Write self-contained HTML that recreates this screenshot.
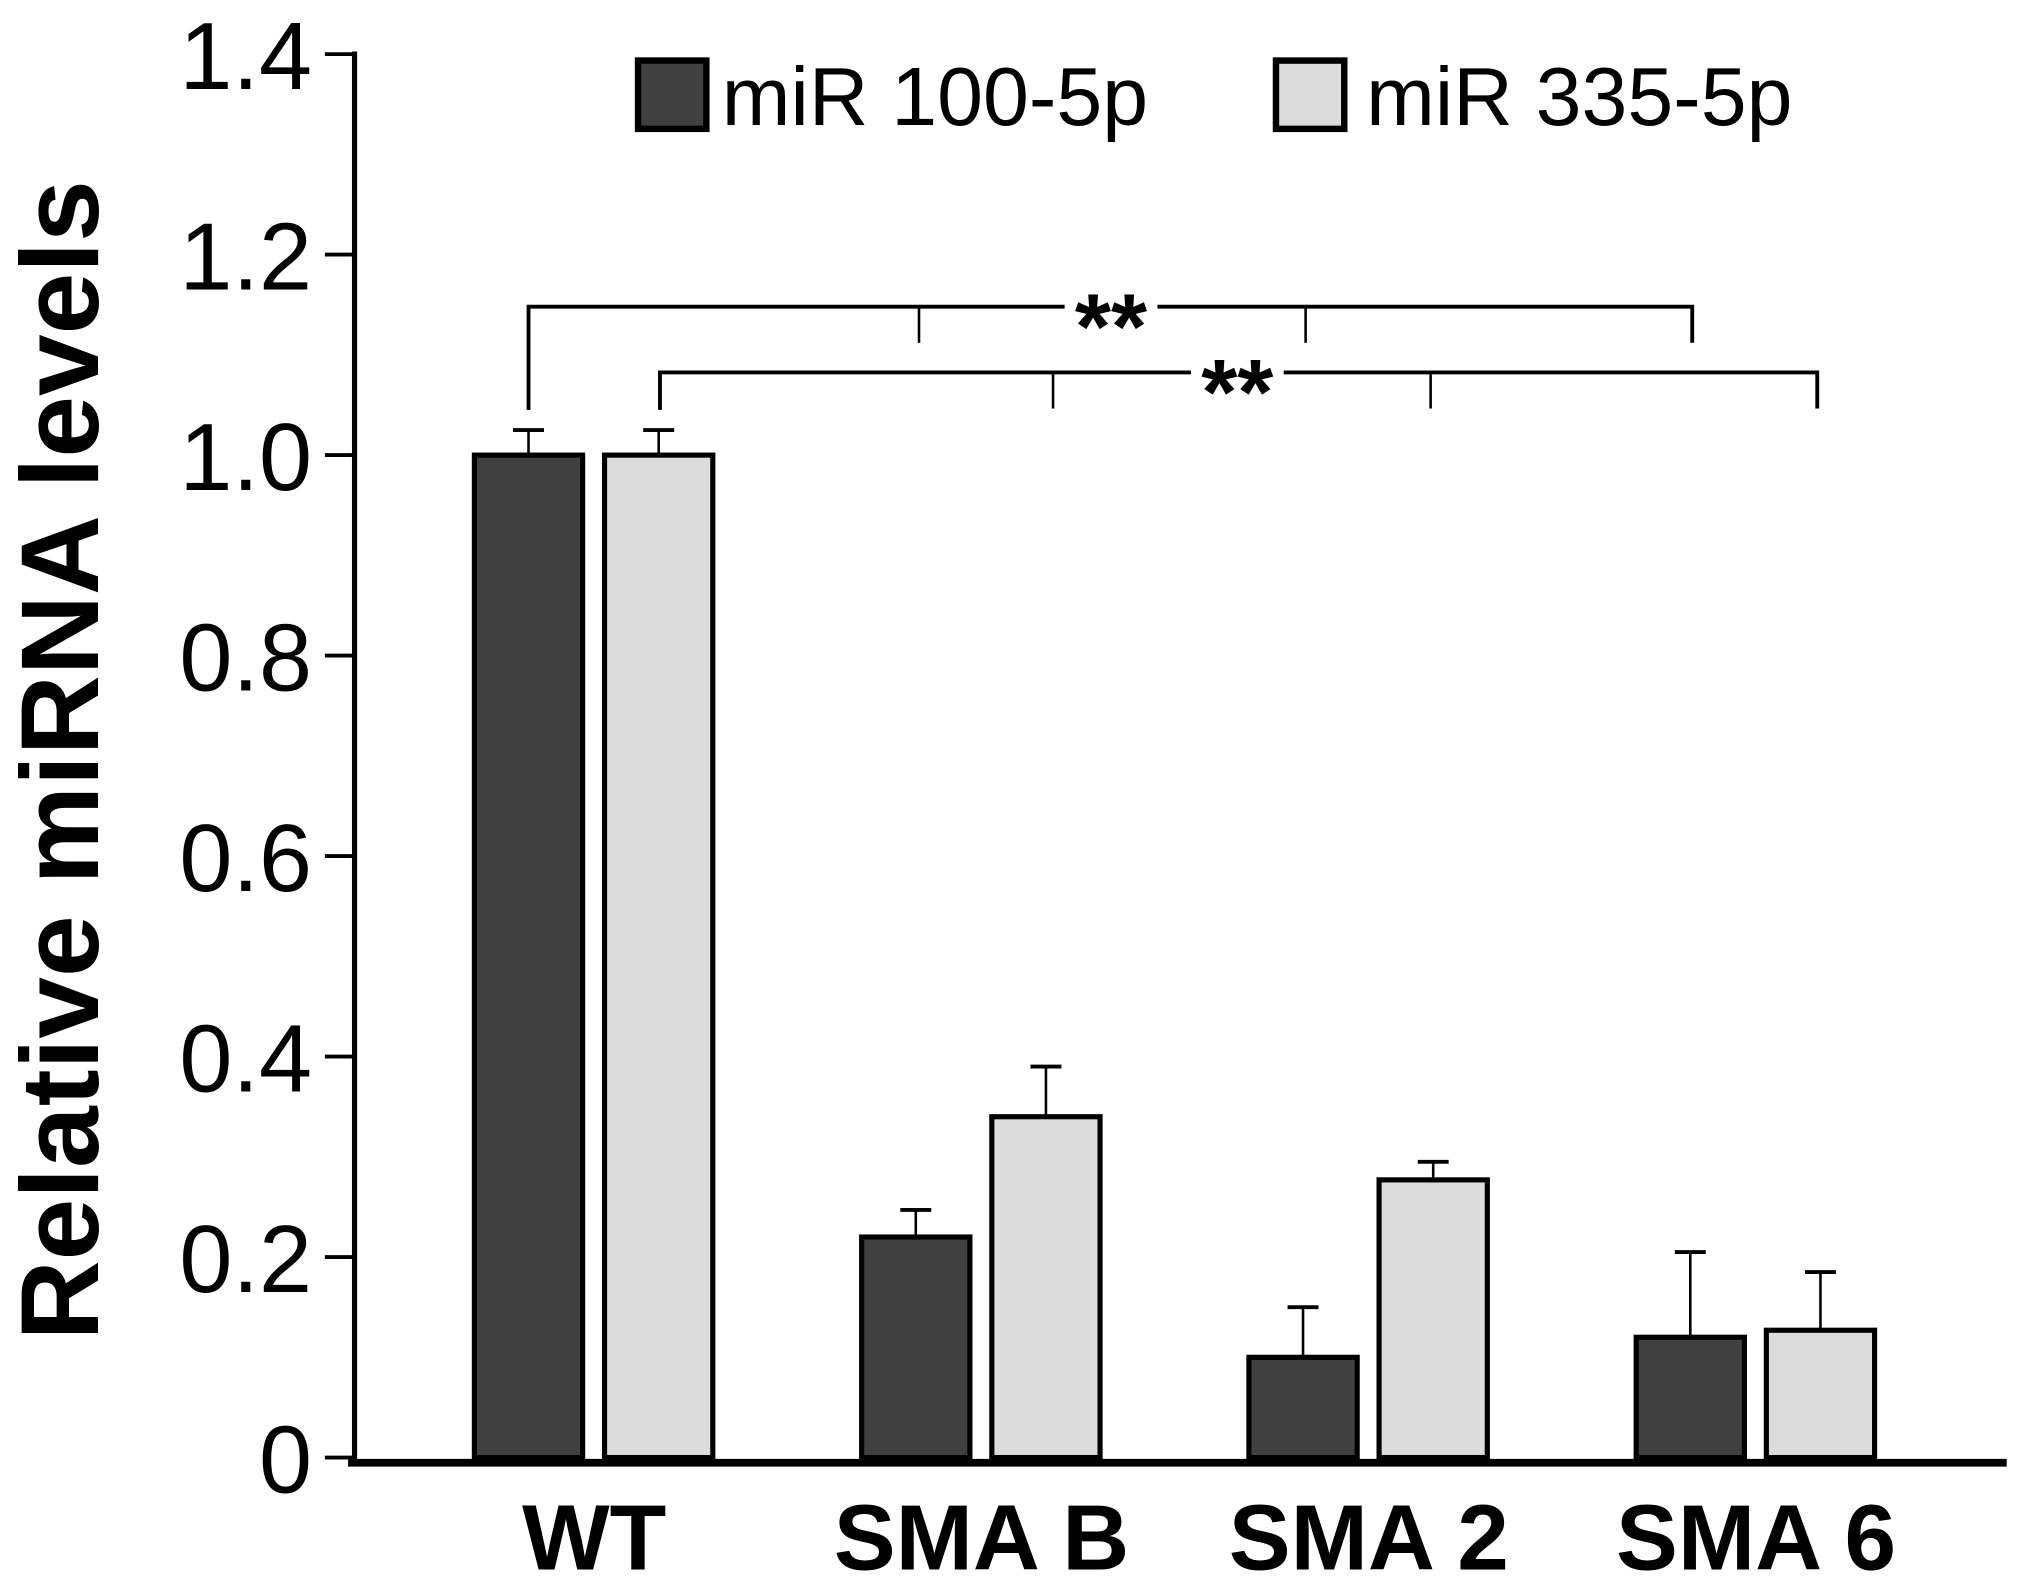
<!DOCTYPE html>
<html><head><meta charset="utf-8"><style>
html,body{margin:0;padding:0;background:#fff;}
svg{display:block;}
text{font-family:"Liberation Sans",Arial,sans-serif;}
</style></head><body>
<svg id="chart" width="2021" height="1589" viewBox="0 0 1568 1233" xmlns="http://www.w3.org/2000/svg">
<g id="axes"></g>
<g id="bars"></g>
<g id="sig"></g>
<g>
  <rect x="495" y="47" width="53" height="53" fill="#404040" stroke="#000" stroke-width="5"/>
  <text x="560" y="97" font-size="64">miR 100-5p</text>
  <rect x="990" y="47" width="53" height="53" fill="#dcdcdc" stroke="#000" stroke-width="5"/>
  <text x="1060" y="97" font-size="64">miR 335-5p</text>
</g>
<text transform="translate(76,590) rotate(-90)" text-anchor="middle" font-size="86" font-weight="bold">Relative miRNA levels</text>
</svg>
<script>
const categories = ["WT", "SMA B", "SMA 2", "SMA 6"];
const mir100 = [1.0, 0.22, 0.10, 0.12];
const mir100Err = [0.025, 0.027, 0.05, 0.085];
const mir335 = [1.0, 0.34, 0.277, 0.127];
const mir335Err = [0.025, 0.05, 0.018, 0.058];
const yTicks = [0, 0.2, 0.4, 0.6, 0.8, 1.0, 1.2, 1.4];
const yTickLabels = ["0", "0.2", "0.4", "0.6", "0.8", "1.0", "1.2", "1.4"];

const NS = "http://www.w3.org/2000/svg";
function y(v){ return 1131 - v * (1089 / 1.4); }
function groupCenter(i){ return 461 + i * 300.5; }
function mk(tag, attrs, parent){
  const e = document.createElementNS(NS, tag);
  for (const k in attrs) e.setAttribute(k, attrs[k]);
  parent.appendChild(e); return e;
}
const axes = document.getElementById('axes');
let a = mk('line', {x1:275, y1:40, x2:275, y2:1137, stroke:'#000', 'stroke-width':4}, axes);


a = mk('line', {x1:270, y1:1135, x2:1557, y2:1135, stroke:'#000', 'stroke-width':6}, axes);


yTicks.forEach((t, i) => {
  const l = mk('line', {x1:252, y1:y(t), x2:275, y2:y(t), stroke:'#000', 'stroke-width':3}, axes);
  
  
  const tx = mk('text', {x:242, y:y(t) + 27, 'text-anchor':'end', 'font-size':74}, axes);
  tx.textContent = yTickLabels[i];
  
  
});
categories.forEach((c, i) => {
  const tx = mk('text', {x:groupCenter(i), y:1218, 'text-anchor':'middle', 'font-size':72, 'font-weight':'bold'}, axes);
  tx.textContent = c;
  
  
});
const bars = document.getElementById('bars');
const bw = 84;
function drawBar(x0, v, err, fill, name){
  const eb = mk('line', {x1:x0 + bw/2, y1:y(v), x2:x0 + bw/2, y2:y(v + err), stroke:'#000', 'stroke-width':2}, bars);
  
  
  const cap = mk('line', {x1:x0 + bw/2 - 12, y1:y(v + err), x2:x0 + bw/2 + 12, y2:y(v + err), stroke:'#000', 'stroke-width':3}, bars);
  
  
  const r = mk('rect', {x:x0, y:y(v), width:bw, height:y(0) - y(v), fill:fill, stroke:'#000', 'stroke-width':4}, bars);
  
  
}
categories.forEach((c, i) => {
  const cx = groupCenter(i);
  drawBar(cx - 93, mir100[i], mir100Err[i], '#404040', 'bar-mir100-' + i);
  drawBar(cx + 8, mir335[i], mir335Err[i], '#dcdcdc', 'bar-mir335-' + i);
});
const sig = document.getElementById('sig');
function bracket(xs, yTop, yStart, starX){
  const p = mk('polyline', {points:`${xs[0]},${yStart} ${xs[0]},${yTop} ${xs[xs.length-1]},${yTop} ${xs[xs.length-1]},${yTop+28}`, fill:'none', stroke:'#000', 'stroke-width':3}, sig);
  
  
  xs.slice(1, -1).forEach(x => {
    const l = mk('line', {x1:x, y1:yTop, x2:x, y2:yTop + 28, stroke:'#000', 'stroke-width':2}, sig);
    
    
  });
  const bg = mk('rect', {x:starX - 36, y:yTop - 20, width:72, height:40, fill:'#fff'}, sig);
  
  
  const t = mk('text', {x:starX, y:yTop + 40, 'text-anchor':'middle', 'font-size':72, 'font-weight':'bold'}, sig);
  t.textContent = '**';
  
  
}
bracket([410, 713, 1013, 1313], 238, 318, 862);
bracket([512, 817, 1110, 1410], 289, 318, 960);
</script>
</body></html>
